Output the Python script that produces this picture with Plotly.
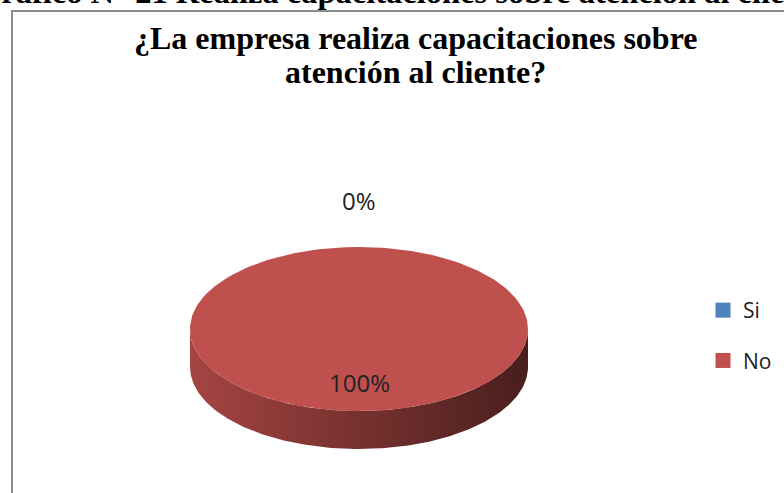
import numpy as np
import plotly.graph_objects as go

# Survey answers and their shares
categories = ["Si", "No"]
values = [0, 100]
slice_colors = ["#4F81BD", "#C0504D"]

chart_title = ["¿La empresa realiza capacitaciones sobre", "atención al cliente?"]
caption = "Gráfico N° 21 Realiza capacitaciones sobre atención al cliente"

W, H = 784, 493
# geometry of the tilted pie (pixel units on the hidden axes)
CX, CY, RX, RY, DEPTH = 359, 329, 169, 82, 38
LABEL_OUT, LABEL_IN = 1.57, 0.65


def arc(a0, a1, n=240):
    t = np.radians(np.linspace(a0, a1, n))
    return CX + RX * np.sin(t), CY - RY * np.cos(t)


def shade(hex_color, k):
    h = hex_color.lstrip("#")
    r, g, b = (int(h[i:i + 2], 16) for i in (0, 2, 4))
    return f"rgb({int(r * k)},{int(g * k)},{int(b * k)})"


total = sum(values)
fig = go.Figure()

# front side walls of each slice (visible between 90 and 270 degrees)
cum = 0
for cat, v, col in zip(categories, values, slice_colors):
    a0, a1 = cum / total * 360, (cum + v) / total * 360
    s0, s1 = max(a0, 90), min(a1, 270)
    if v > 0 and s1 > s0:
        xs, ys = arc(s0, s1)
        px = np.concatenate([xs, xs[::-1]])
        py = np.concatenate([ys, ys[::-1] + DEPTH])
        fig.add_trace(go.Scatter(
            x=px, y=py, mode="lines", fill="toself", line=dict(width=0),
            fillgradient=dict(type="horizontal", colorscale=[
                [0, shade(col, 0.86)], [0.5, shade(col, 0.62)], [1, shade(col, 0.38)]]),
            showlegend=False, hoverinfo="skip"))
    cum += v

# top faces of the slices
cum = 0
labels = []
for cat, v, col in zip(categories, values, slice_colors):
    a0, a1 = cum / total * 360, (cum + v) / total * 360
    if v > 0:
        xs, ys = arc(a0, a1)
        if v < total:
            xs = np.concatenate([[CX], xs, [CX]])
            ys = np.concatenate([[CY], ys, [CY]])
        fig.add_trace(go.Scatter(
            x=xs, y=ys, mode="lines", fill="toself", fillcolor=col,
            line=dict(width=0), showlegend=False, hoverinfo="skip"))
    mid = np.radians((a0 + a1) / 2)
    f = LABEL_IN if v > 0 else LABEL_OUT
    labels.append((CX + RX * f * np.sin(mid), CY - RY * f * np.cos(mid),
                   f"{round(v / total * 100)}%"))
    cum += v

# legend entries
for cat, col in zip(categories, slice_colors):
    fig.add_trace(go.Scatter(
        x=[None], y=[None], mode="markers", name=cat, legendgroup=cat,
        marker=dict(symbol="square", size=15, color=col)))

annotations = [
    dict(x=lx, y=ly, xref="x", yref="y", text=t, showarrow=False,
         xanchor="center", yanchor="middle",
         font=dict(family="Open Sans", size=24, color="#222222"))
    for lx, ly, t in labels
]
for i, line in enumerate(chart_title):
    annotations.append(dict(
        x=415, y=38 + i * 34, xref="x", yref="y", text=f"<b>{line}</b>",
        showarrow=False, xanchor="center", yanchor="middle",
        font=dict(family="Liberation Serif", size=32, color="#000000")))
annotations.append(dict(
    x=-26 / W, y=1 - 12 / H, xref="paper", yref="paper", text=f"<b>{caption}</b>",
    showarrow=False, xanchor="left", yanchor="bottom",
    font=dict(family="Liberation Serif", size=32.5, color="#000000")))

fig.update_layout(
    width=W, height=H,
    margin=dict(l=0, r=0, t=0, b=0),
    paper_bgcolor="white", plot_bgcolor="white",
    xaxis=dict(range=[0, W], visible=False, fixedrange=True),
    yaxis=dict(range=[H, 0], visible=False, fixedrange=True),
    annotations=annotations,
    shapes=[dict(type="rect", xref="paper", yref="paper",
                 x0=12 / W, x1=1.05, y0=-0.05, y1=1 - 11 / H,
                 line=dict(color="#8c8c8c", width=2), fillcolor="rgba(0,0,0,0)",
                 layer="below")],
    legend=dict(x=703 / W, y=1 - 290 / H, xanchor="left", yanchor="top",
                font=dict(family="Open Sans", size=21, color="#222222"),
                tracegroupgap=20, bgcolor="rgba(0,0,0,0)"),
    showlegend=True,
)

fig.write_html("out.html")
